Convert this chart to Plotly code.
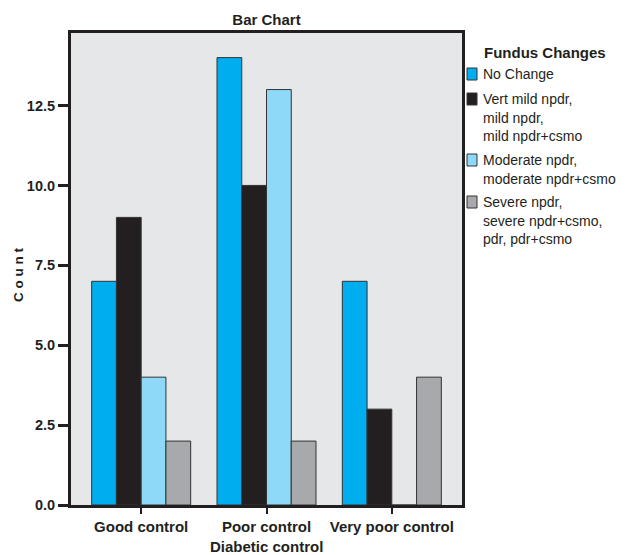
import plotly.graph_objects as go

categories = ["Good control", "Poor control", "Very poor control"]
series_names = ["No Change", "Vert mild npdr, mild npdr, mild npdr+csmo",
                "Moderate npdr, moderate npdr+csmo",
                "Severe npdr, severe npdr+csmo, pdr, pdr+csmo"]
legend_lines = [
    ["No Change"],
    ["Vert mild npdr,", "mild npdr,", "mild npdr+csmo"],
    ["Moderate npdr,", "moderate npdr+csmo"],
    ["Severe npdr,", "severe npdr+csmo,", "pdr, pdr+csmo"],
]
no_change = [7, 14, 7]
mild = [9, 10, 3]
moderate = [4, 13, 0]
severe = [2, 2, 4]
colors = ["#00AEEF", "#231F20", "#8ED8F8", "#A7A9AC"]
y_ticks = [0, 2.5, 5, 7.5, 10, 12.5]
y_tick_labels = ["0.0", "2.5", "5.0", "7.5", "10.0", "12.5"]

FONT = "Liberation Sans Narrow, Arial Narrow, Liberation Sans, Arial, sans-serif"
OFF = 8  # page body margin
W, H = 629 - OFF, 555 - OFF
# plot area in page pixels: x 71..462, y 33..505
PX0, PX1, PY0, PY1 = 71, 462, 33, 505
L, T = PX0 - OFF, PY0 - OFF
R, B = W - (PX1 - OFF), H - (PY1 - OFF)
PW, PH = PX1 - PX0, PY1 - PY0


def px(x):
    return (x - PX0) / PW


def py(y):
    return (PY1 - y) / PH


fig = go.Figure()
for name, vals, col in zip(series_names, [no_change, mild, moderate, severe], colors):
    fig.add_trace(go.Bar(
        x=categories, y=vals, name=name, showlegend=False,
        marker=dict(color=col, line=dict(color="#333333", width=1)),
    ))

annotations = [
    dict(text="<b>Diabetic control</b>", x=0.5, xref="paper", y=py(546), yref="paper",
         xanchor="center", yanchor="middle", showarrow=False, font=dict(size=15)),
    dict(text="<b>C o u n t</b>", x=px(18), xref="paper", y=py(275), yref="paper",
         xanchor="center", yanchor="middle", textangle=-90, showarrow=False,
         font=dict(size=13.5)),
    dict(text="<b>Fundus Changes</b>", x=px(482), xref="paper", y=py(52), yref="paper",
         xanchor="left", yanchor="middle", showarrow=False, font=dict(size=15)),
]
shapes = []
entry_y = [74, 99, 160, 202]
line_h = 18.7
for lines, col, ey in zip(legend_lines, colors, entry_y):
    for i, ln in enumerate(lines):
        annotations.append(dict(
            text=ln, x=px(481), xref="paper", y=py(ey + i * line_h), yref="paper",
            xanchor="left", yanchor="middle", align="left", showarrow=False,
            font=dict(size=14),
        ))
    shapes.append(dict(
        type="rect", xref="paper", yref="paper",
        x0=px(467), x1=px(477), y0=py(ey - 6), y1=py(ey + 6),
        fillcolor=col, line=dict(color="#333333", width=1),
    ))

fig.update_layout(
    width=W, height=H,
    barmode="group", bargap=0.21, bargroupgap=0,
    paper_bgcolor="white", plot_bgcolor="#E6E7E8",
    margin=dict(l=L, r=R, t=T, b=B, autoexpand=False),
    font=dict(family=FONT, color="#231F20", size=14),
    title=dict(text="<b>Bar Chart</b>", x=0.5, xref="paper", xanchor="center",
               y=1 - (20 - OFF) / H, yanchor="middle", font=dict(size=15)),
    showlegend=False,
    annotations=annotations,
    shapes=shapes,
    xaxis=dict(
        range=[-0.56, 2.56], showline=True, linecolor="#231F20", linewidth=3,
        mirror=True, ticks="outside", ticklen=6, tickwidth=2, tickcolor="#231F20",
        tickfont=dict(size=15), showgrid=False, automargin=False,
        tickprefix="<b>", ticksuffix="</b>",
    ),
    yaxis=dict(
        range=[0, 14.77], showline=True, linecolor="#231F20", linewidth=3,
        mirror=True, ticks="outside", ticklen=10, tickwidth=3, tickcolor="#231F20",
        tickvals=y_ticks, ticktext=["<b>%s</b>" % t for t in y_tick_labels],
        tickfont=dict(size=14.5), showgrid=False, zeroline=False, automargin=False,
    ),
)

fig.write_html("out.html")
